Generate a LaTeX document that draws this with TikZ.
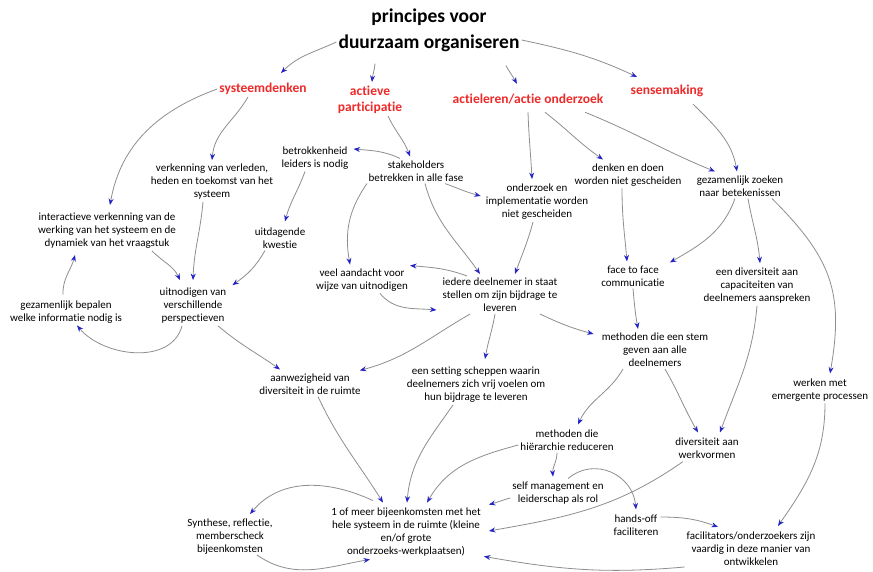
\documentclass[tikz,border=0pt]{standalone}
\usepackage{fontspec}
\setmainfont{Carlito}[Ligatures=NoCommon]
\usetikzlibrary{arrows.meta}
\definecolor{headred}{HTML}{EE2A2A}
\definecolor{tipblue}{HTML}{2323C8}
\definecolor{linegray}{HTML}{8E8E8E}
\begin{document}
\begin{tikzpicture}[x=1pt,y=-1pt,
  idea/.style={align=center,font=\fontsize{11}{13}\selectfont,inner sep=2pt},
  theme/.style={align=center,font=\bfseries\fontsize{13.5}{16}\selectfont,text=headred,inner sep=2pt},
  titletext/.style={align=center,font=\bfseries\fontsize{19.5}{26}\selectfont,inner sep=2pt},
  conn/.style={draw=linegray,line width=0.8pt,-{Stealth[color=tipblue,length=6.5pt,width=5pt]}},
]
\fill[white] (0,0) rectangle (873,571);
\useasboundingbox (0,0) rectangle (873,571);

% title and the four principles
\node[titletext] (title) at (429,30) {principes voor\\duurzaam organiseren};
\node[theme] (sys) at (263,89) {systeemdenken};
\node[theme] (act) at (370,100) {actieve\\participatie};
\node[theme] (actl) at (528,99) {actieleren/actie onderzoek};
\node[theme] (sense) at (667,91) {sensemaking};

% ideas
\node[idea] (verk) at (212,182) {verkenning van verleden,\\heden en toekomst van het\\systeem};
\node[idea] (betr) at (315,158) {betrokkenheid\\leiders is nodig};
\node[idea] (stake) at (416,171) {stakeholders\\betrekken in alle fase};
\node[idea] (ondz) at (537,202) {onderzoek en\\implementatie worden\\niet gescheiden};
\node[idea] (denk) at (628,175) {denken en doen\\worden niet gescheiden};
\node[idea] (gzoek) at (740,186) {gezamenlijk zoeken\\naar betekenissen};
\node[idea] (inter) at (107,231) {interactieve verkenning van de\\werking van het systeem en de\\dynamiek van het vraagstuk};
\node[idea] (uitd) at (280,238) {uitdagende\\kwestie};
\node[idea] (veel) at (362,280) {veel aandacht voor\\wijze van uitnodigen};
\node[idea] (ieder) at (500,295) {iedere deelnemer in staat\\stellen om zijn bijdrage te\\leveren};
\node[idea] (face) at (633,276) {face to face\\communicatie};
\node[idea] (capac) at (757,286) {een diversiteit aan\\capaciteiten van\\deelnemers aanspreken};
\node[idea] (gbep) at (66,312) {gezamenlijk bepalen\\welke informatie nodig is};
\node[idea] (uitn) at (193,306) {uitnodigen van\\verschillende\\perspectieven};
\node[idea] (stem) at (655,350) {methoden die een stem\\geven aan alle\\deelnemers};
\node[idea] (aanw) at (310,384) {aanwezigheid van\\diversiteit in de ruimte};
\node[idea] (setting) at (476,385) {een setting scheppen waarin\\deelnemers zich vrij voelen om\\hun bijdrage te leveren};
\node[idea] (emerg) at (820,390) {werken met\\emergente processen};
\node[idea] (hier) at (567,440) {methoden die\\hiërarchie reduceren};
\node[idea] (werkv) at (707,448) {diversiteit aan\\werkvormen};
\node[idea] (selfm) at (558,493) {self management en\\leiderschap als rol};
\node[idea] (hands) at (636,525) {hands-off\\faciliteren};
\node[idea] (meer) at (406,532) {1 of meer bijeenkomsten met het\\hele systeem in de ruimte (kleine\\en/of grote\\onderzoeks-werkplaatsen)};
\node[idea] (synth) at (230,537) {Synthese, reflectie,\\memberscheck\\bijeenkomsten};
\node[idea] (facil) at (751,549) {facilitators/onderzoekers zijn\\vaardig in deze manier van\\ontwikkelen};

% connectors from the title
\draw[conn] ([yshift=-12pt]title.west) to[out=205,in=45] ([xshift=18pt,yshift=8pt]sys.north);
\draw[conn] ([xshift=-54pt,yshift=-10pt]title.south) to[out=-95,in=85] ([xshift=2pt,yshift=2pt]act.north);
\draw[conn] ([xshift=77pt,yshift=-12pt]title.south) to[out=-60,in=120] ([xshift=-11pt,yshift=8pt]actl.north);
\draw[conn] ([yshift=-10pt]title.east) to[out=-12,in=155] ([xshift=-30pt,yshift=6pt]sense.north);

% systeemdenken branch
\draw[conn] (sys.west) to[out=200,in=80] ([xshift=3pt,yshift=6pt]inter.north);
\draw[conn] ([xshift=-15pt]sys.south) to[out=-120,in=85] ([yshift=2pt]verk.north);
\draw[conn] ([xshift=45pt]inter.south) to[out=-45,in=115] ([xshift=-13pt,yshift=6pt]uitn.north);
\draw[conn] ([xshift=-9pt]verk.south) to[out=-95,in=88] ([yshift=6pt]uitn.north);
\draw[conn] ([xshift=-15pt]uitd.south) to[out=-120,in=35] ([xshift=4pt,yshift=1pt]uitn.north east);
\draw[conn] ([xshift=-11pt]uitn.south) to[out=-105,in=-50] ([xshift=11pt]gbep.south);
\draw[conn] ([xshift=-3pt,yshift=4pt]gbep.north) to[out=92,in=-105] ([xshift=-32pt,yshift=-4pt]inter.south);
\draw[conn] ([xshift=25pt]uitn.south) to[out=-40,in=145] ([xshift=-30pt,yshift=2pt]aanw.north);

% actieve participatie branch
\draw[conn] ([xshift=18pt]act.south) to[out=-65,in=110] ([xshift=-6pt,yshift=2pt]stake.north);
\draw[conn] ([xshift=-16pt]stake.north) to[out=155,in=-5] ([xshift=3pt,yshift=9pt]betr.east);
\draw[conn] ([xshift=-10pt]betr.south) to[out=-110,in=75] ([xshift=5pt,yshift=4pt]uitd.north);
\draw[conn] ([xshift=29pt]stake.south) to[out=-20,in=165] ([xshift=-3pt,yshift=6pt]ondz.west);
\draw[conn] ([xshift=-49pt]stake.south) to[out=-125,in=100] ([xshift=-12pt,yshift=2pt]veel.north);
\draw[conn] ([xshift=9pt]stake.south) to[out=-75,in=125] ([xshift=-20pt,yshift=2pt]ieder.north);
\draw[conn] ([xshift=-33pt]ieder.north) to[out=160,in=-5] ([yshift=1pt]veel.north east);
\draw[conn] ([xshift=18pt]veel.south) to[out=-50,in=175] ([xshift=-4pt,yshift=-15pt]ieder.west);

% actieleren branch
\draw[conn] ([yshift=-6pt]actl.south) to[out=-88,in=93] ([xshift=-5pt,yshift=3pt]ondz.north);
\draw[conn] ([xshift=17pt,yshift=-6pt]actl.south) to[out=-38,in=145] ([xshift=-25pt,yshift=2pt]denk.north);
\draw[conn] ([xshift=57pt,yshift=-6pt]actl.south) to[out=-22,in=158] ([xshift=-25pt,yshift=2pt]gzoek.north);
\draw[conn] ([xshift=-4pt]ondz.south) to[out=-105,in=70] ([xshift=15pt,yshift=2pt]ieder.north);
\draw[conn] ([xshift=-6pt]denk.south) to[out=-90,in=95] ([xshift=-6pt,yshift=2pt]face.north);

% sensemaking branch
\draw[conn] ([xshift=26pt,yshift=-5pt]sense.south) to[out=-45,in=100] ([xshift=-3pt,yshift=2pt]gzoek.north);
\draw[conn] ([xshift=-5pt]gzoek.south) to[out=-110,in=30] ([xshift=3pt,yshift=1pt]face.north east);
\draw[conn] ([xshift=8pt]gzoek.south) to[out=-80,in=95] ([xshift=3pt,yshift=3pt]capac.north);
\draw[conn] ([xshift=32pt]gzoek.south) to[out=-45,in=80,looseness=1.15] ([xshift=10pt,yshift=3pt]emerg.north);

% middle layer
\draw[conn] (face.south) to[out=-85,in=100] ([xshift=-17pt,yshift=2pt]stem.north);
\draw[conn] ([xshift=40pt]ieder.south) to[out=-25,in=165] ([xshift=-6pt,yshift=16pt]stem.west);
\draw[conn] ([xshift=-30pt]ieder.south) to[out=-150,in=15] ([xshift=-3pt,yshift=1pt]aanw.north east);
\draw[conn] ([xshift=-5pt]ieder.south) to[out=-100,in=80] ([xshift=9pt,yshift=6pt]setting.north);
\draw[conn] ([xshift=-32pt]stem.south) to[out=-120,in=65] ([xshift=11pt,yshift=3pt]hier.north);
\draw[conn] ([xshift=10pt]stem.south) to[out=-60,in=120] ([xshift=-9pt,yshift=3pt]werkv.north);
\draw[conn] (capac.south) to[out=-95,in=70] ([xshift=13pt,yshift=3pt]werkv.north);
\draw[conn] ([xshift=-10pt]hier.south) to[out=-90,in=95] ([xshift=-5pt,yshift=3pt]selfm.north);

% towards the meetings
\draw[conn] ([xshift=8pt]aanw.south) to[out=-65,in=122] ([xshift=-23pt,yshift=3pt]meer.north);
\draw[conn] ([xshift=-23pt]setting.south) to[out=-125,in=85] ([xshift=1pt,yshift=3pt]meer.north);
\draw[conn] ([yshift=-5pt]hier.west) to[out=195,in=60] ([xshift=21pt,yshift=3pt]meer.north);
\draw[conn] ([yshift=-5pt]selfm.west) to[out=195,in=15] ([xshift=6pt,yshift=1pt]meer.north east);
\draw[conn] ([xshift=-24pt,yshift=-1pt]werkv.south) to[out=-145,in=10] ([xshift=6pt,yshift=1pt]meer.east);
\draw[conn] ([xshift=10pt,yshift=1pt]selfm.north) to[out=40,in=95,looseness=1.2] ([yshift=3pt]hands.north);
\draw[conn] ([yshift=8pt]hands.east) to[out=0,in=160] ([xshift=-33pt,yshift=3pt]facil.north);
\draw[conn] ([xshift=5pt]emerg.south) to[out=-90,in=55] ([xshift=27pt,yshift=4pt]facil.north);
\draw[conn] ([yshift=-18pt]facil.west) to[out=185,in=-10] ([xshift=1pt,yshift=2pt]meer.south east);
\draw[conn] ([xshift=-33pt,yshift=5pt]meer.north) to[out=155,in=50] ([xshift=20pt,yshift=3pt]synth.north);
\draw[conn] ([xshift=27pt,yshift=2pt]synth.south) to[out=-35,in=-170] ([xshift=-36pt,yshift=-1pt]meer.south);
\end{tikzpicture}
\end{document}
